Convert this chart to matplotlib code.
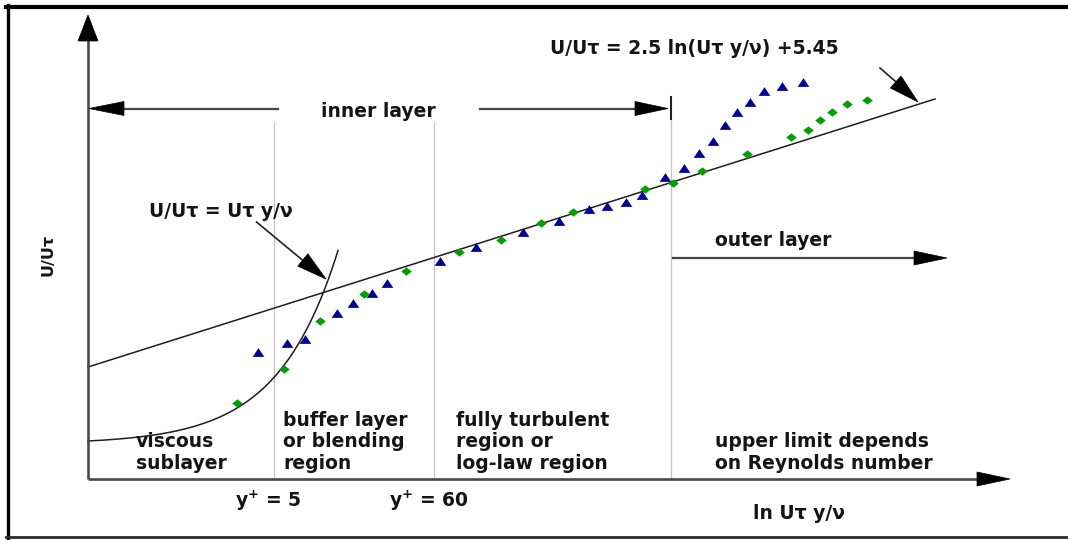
import numpy as np
import matplotlib
matplotlib.use("Agg")
import matplotlib.pyplot as plt
from matplotlib.patches import Polygon
from matplotlib.lines import Line2D

# Schematic units: x runs along "ln Uτ y/ν", y along "U/Uτ"; origin at the axes corner.
blue_x = [170, 199, 217, 249, 265, 284, 299, 352, 388, 435, 471, 501, 519, 538, 554,
          577, 596, 611, 625, 637, 649, 662, 676, 694, 715]
blue_y = [127, 136, 140, 166, 176, 186, 196, 218, 232, 247, 258, 270, 273, 277, 284,
          302, 311, 326, 338, 354, 367, 377, 388, 393, 397]
green_x = [149, 196, 232, 276, 318, 371, 413, 453, 485, 557, 585, 614, 659, 703, 720,
           732, 744, 759, 779]
green_y = [76, 110, 158, 185, 208, 227, 239, 256, 267, 290, 296, 308, 325, 342, 349,
           359, 367, 375, 379]

# log-law line end points
loglaw_x = [0, 847]
loglaw_y = [112, 380]
# viscous sublayer U+ = y+ drawn on the log axis: y = base + amp * exp(x / scale)
visc_base, visc_amp, visc_scale, visc_xmax = 35.0, 3.0, 60.0, 250.0

# region boundaries on the x axis
bound_5, bound_60, bound_outer = 186, 345.5, 582.5

eq_log = "U/Uτ = 2.5 ln(Uτ y/ν) +5.45"
eq_visc = "U/Uτ = Uτ y/ν"
region_labels = ["viscous\nsublayer", "buffer layer\nor blending\nregion",
                 "fully turbulent\nregion or\nlog-law region",
                 "upper limit depends\non Reynolds number"]
tick_labels = [r"y$^{\mathbf{+}}$ = 5", r"y$^{\mathbf{+}}$ = 60"]

W, H = 1068, 540
fig = plt.figure(figsize=(W / 100, H / 100), dpi=100)
ax = fig.add_axes([0, 0, 1, 1])
ax.set_xlim(-88, W - 88)
ax.set_ylim(-(H - 479), 479)
ax.axis("off")

plt.rcParams["mathtext.fontset"] = "dejavusans"
TXT = dict(family="DejaVu Sans", weight="bold", size=13.5, color="#141414")
AX_C = "#4a4a4a"


def head(tip, direction, length, half):
    d = np.array(direction, float)
    d /= np.hypot(*d)
    n = np.array([-d[1], d[0]])
    t = np.array(tip, float)
    b = t - d * length
    ax.add_patch(Polygon([t, b + n * half, b - n * half], closed=True,
                         fc="black", ec="black", lw=0.5, zorder=5))


# frame
fig.add_artist(Line2D([6 / W, 1], [1 - 7 / H] * 2, color="black", lw=3.0))
fig.add_artist(Line2D([8 / W] * 2, [1 - 5 / H, 1 - 538 / H], color="black", lw=2.4))
fig.add_artist(Line2D([6 / W, 1], [1 - 536.5 / H] * 2, color="#2a2a2a", lw=2.0))

# axes with arrowheads
ax.plot([0, 0], [0, 440], color=AX_C, lw=1.9, solid_capstyle="butt", zorder=3)
head((0, 464), (0, 1), 26, 10)
ax.plot([0, 892], [0, 0], color=AX_C, lw=1.9, solid_capstyle="butt", zorder=3)
head((922, 0), (1, 0), 33, 7)

# region boundaries
for xb in (bound_5, bound_60):
    ax.plot([xb, xb], [0, 357], color="#c4c4c4", lw=0.9, zorder=1)
ax.plot([bound_outer, bound_outer], [0, 360], color="#c4c4c4", lw=0.9, zorder=1)
ax.plot([bound_outer, bound_outer], [360, 382], color="#222222", lw=1.5, zorder=3)

# inner layer arrow
yi = 370.5
ax.plot([20, 190], [yi, yi], color="#444444", lw=1.6, zorder=3)
ax.plot([392, 560], [yi, yi], color="#444444", lw=1.6, zorder=3)
head((1, yi), (-1, 0), 35, 7)
head((580, yi), (1, 0), 33, 7)
ax.text(290, 362, "inner layer", ha="center", va="baseline", **TXT)

# outer layer arrow
yo = 221
ax.plot([585, 830], [yo, yo], color="#444444", lw=1.6, zorder=3)
head((859, yo), (1, 0), 33, 7)
ax.text(627, 233, "outer layer", ha="left", va="baseline", **TXT)

# theory lines
ax.plot(loglaw_x, loglaw_y, color="#1e1e1e", lw=1.1, zorder=2)
xv = np.linspace(0, visc_xmax, 200)
ax.plot(xv, visc_base + visc_amp * np.exp(xv / visc_scale), color="#1e1e1e", lw=1.1, zorder=2)

# data markers
tri = [(-1, -0.75), (1, -0.75), (0, 0.75)]
dia = [(-1, 0), (0, 0.8), (1, 0), (0, -0.8)]
ax.plot(blue_x, blue_y, ls="none", marker=tri, ms=8.4, mfc="#000096", mec="#000096",
        mew=0, zorder=4)
ax.plot(green_x, green_y, ls="none", marker=dia, ms=7.6, mfc="#00a000", mec="#00a000",
        mew=0, zorder=4)

# equation labels with pointers
ax.text(221 - 88, 262, eq_visc, ha="center", va="baseline", **TXT)
vs, vt = (168.5, 257), (238, 200)
ax.plot([vs[0], vt[0] - 20], [vs[1], vt[1] + 16], color="#222222", lw=1.2, zorder=3)
head(vt, (vt[0] - vs[0], vt[1] - vs[1]), 30, 8)
ax.text(694 - 88, 425, eq_log, ha="center", va="baseline", **TXT)
ls_, lt = (792, 411), (830, 377)
ax.plot([ls_[0], lt[0] - 15], [ls_[1], lt[1] + 14], color="#222222", lw=1.2, zorder=3)
head(lt, (lt[0] - ls_[0], lt[1] - ls_[1]), 30, 8)

# region texts
for xl, lab in zip([136, 283, 456, 715], region_labels):
    ax.text(xl - 88, 10, lab, ha="left", va="baseline", linespacing=1.17, **TXT)

# axis texts
ax.text(268 - 88, -28, tick_labels[0], ha="center", va="baseline", **TXT)
ax.text(429 - 88, -28, tick_labels[1], ha="center", va="baseline", **TXT)
ax.text(799 - 88, -40, "ln Uτ y/ν", ha="center", va="baseline", **TXT)
ax.text(48 - 88, 224, "U/Uτ", ha="center", va="center", rotation=90,
        family="DejaVu Sans", weight="bold", size=11.5, color="#141414")

fig.savefig("out.png", dpi=100, facecolor="white")
